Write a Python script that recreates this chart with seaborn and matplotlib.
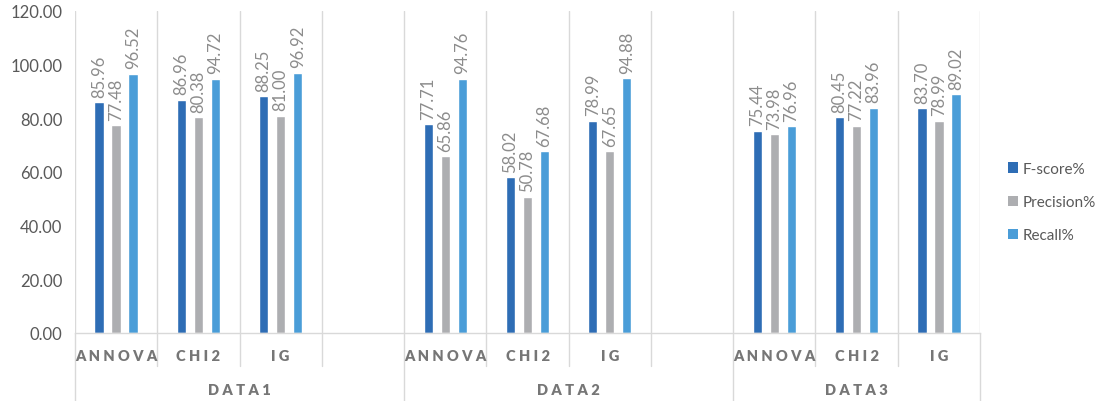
import matplotlib
matplotlib.use("Agg")
import matplotlib.pyplot as plt
import pandas as pd
import seaborn as sns
from matplotlib.patches import Patch
from matplotlib.transforms import blended_transform_factory

# ---- data -------------------------------------------------------------
datasets = ["DATA1", "DATA2", "DATA3"]
methods = ["ANNOVA", "CHI2", "IG"]
metrics = ["F-score%", "Precision%", "Recall%"]

fscore = [85.96, 86.96, 88.25, 77.71, 58.02, 78.99, 75.44, 80.45, 83.70]
precision = [77.48, 80.38, 81.00, 65.86, 50.78, 67.65, 73.98, 77.22, 78.99]
recall = [96.52, 94.72, 96.92, 94.76, 67.68, 94.88, 76.96, 83.96, 89.02]

yticks = [0, 20, 40, 60, 80, 100, 120]

# ---- styling ----------------------------------------------------------
colors = ["#2E6DB5", "#ADAEB1", "#4A9DD8"]
grid_color = "#D9D9D9"
label_color = "#8C8C8C"
tick_color = "#595959"
cat_color = "#767676"

sns.set_theme(style="white")
plt.rcParams["font.family"] = ["Lato", "DejaVu Sans"]

# slots along the category axis: each dataset's methods, with an empty
# spacer slot after the first two datasets
order = []
for d_i, d in enumerate(datasets):
    for m in methods:
        order.append(f"{d}|{m}")
    if d_i < len(datasets) - 1:
        order.append(f"{d}|")

rows = []
k = 0
for d in datasets:
    for m in methods:
        for metric, vals in zip(metrics, [fscore, precision, recall]):
            rows.append({"slot": f"{d}|{m}", "metric": metric, "value": vals[k]})
        k += 1
df = pd.DataFrame(rows)

W, H = 1107, 402
fig = plt.figure(figsize=(W / 100, H / 100), dpi=100)
ax = fig.add_axes([75 / W, 68 / H, 905 / W, 322 / H])

sns.barplot(
    data=df, x="slot", y="value", hue="metric",
    order=order, hue_order=metrics, palette=colors,
    width=0.62, gap=0.45, saturation=1, legend=False, ax=ax, zorder=3,
)

for cont in ax.containers:
    ax.bar_label(cont, fmt="%.2f", rotation=90, padding=4,
                 color=label_color, fontsize=12)

n = len(order)
ax.set_xlim(-0.5, n - 0.5)
ax.set_ylim(0, 120)
ax.set_yticks(yticks)
ax.set_yticklabels([f"{v:.2f}" for v in yticks], color=tick_color, fontsize=12)
ax.tick_params(axis="y", length=0, pad=9)
ax.set_xticks([])
ax.set_xlabel("")
ax.set_ylabel("")
for s in ["top", "right", "left"]:
    ax.spines[s].set_visible(False)
ax.spines["bottom"].set_color(grid_color)
ax.spines["bottom"].set_linewidth(1)
ax.spines["bottom"].set_zorder(4)

# vertical gridlines at every slot boundary
for b in range(n + 1):
    ax.axvline(b - 0.5, color=grid_color, lw=1, zorder=1)

trans = blended_transform_factory(ax.transData, ax.transAxes)

# method labels under each slot
for i, key in enumerate(order):
    d, m = key.split("|")
    if m:
        ax.text(i, -0.071, " ".join(m), transform=trans, ha="center",
                va="center", fontsize=10.5, fontweight="heavy", color=cat_color)

starts = {}
for i, key in enumerate(order):
    d = key.split("|")[0]
    starts.setdefault(d, [i, i])
    starts[d][1] = i

# dataset labels centred under their slot ranges
boundaries_full = set()
for d, (a, b) in starts.items():
    boundaries_full.add(a - 0.5)
    boundaries_full.add(b + 0.5)
    ax.text((a + b) / 2, -0.174, " ".join(d), transform=trans, ha="center",
            va="center", fontsize=10.5, fontweight="heavy", color=cat_color)

# separators below the axis: short between methods, full between datasets
for b in range(n + 1):
    x = b - 0.5
    y_end = -0.212 if x in boundaries_full else -0.1025
    ax.plot([x, x], [0, y_end], transform=trans, color=grid_color, lw=1,
            clip_on=False, zorder=1)

handles = [Patch(facecolor=c, edgecolor="none", label=l) for c, l in zip(colors, metrics)]
fig.legend(handles=handles, loc="center left", bbox_to_anchor=(1008 / W, 1 - 203 / H),
           frameon=False, fontsize=11, labelcolor=tick_color, handlelength=0.65,
           handleheight=0.65, handletextpad=0.3, labelspacing=1.25,
           borderpad=0, borderaxespad=0)

fig.savefig("out.png", dpi=100, facecolor="white")
